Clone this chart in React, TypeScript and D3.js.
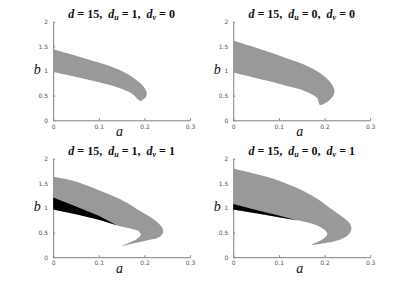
import { useEffect, useRef } from 'react';
import * as d3 from 'd3';

type Pt = [number, number];

const dValue = 15;
const duValues = [1, 0, 1, 0];
const dvValues = [0, 0, 1, 1];

const xTicks = [0, 0.1, 0.2, 0.3];
const yTicks = [0, 0.5, 1, 1.5, 2];

// grey region outlines, (a, b) going round: upper edge, right end, inner edge back to a = 0
const regionTL: Pt[] = [
  [0, 1.44], [0.05, 1.31], [0.1, 1.17], [0.14, 1.04], [0.17, 0.9], [0.19, 0.76],
  [0.2, 0.66], [0.205, 0.55], [0.203, 0.47], [0.197, 0.42], [0.192, 0.39],
  [0.186, 0.42], [0.176, 0.52], [0.15, 0.64], [0.1, 0.77], [0.05, 0.88], [0, 0.98],
];
const regionTR: Pt[] = [
  [0, 1.62], [0.04, 1.5], [0.08, 1.38], [0.12, 1.25], [0.155, 1.13], [0.19, 0.96],
  [0.21, 0.8], [0.22, 0.66], [0.222, 0.58], [0.218, 0.48], [0.21, 0.4], [0.2, 0.34],
  [0.19, 0.31], [0.187, 0.36], [0.184, 0.45], [0.155, 0.6], [0.12, 0.69],
  [0.08, 0.79], [0.04, 0.88], [0, 0.97],
];
const regionBL: Pt[] = [
  [0, 1.63], [0.04, 1.56], [0.066, 1.48], [0.1, 1.36], [0.139, 1.21], [0.17, 1.06],
  [0.19, 0.94], [0.22, 0.77], [0.235, 0.65], [0.241, 0.54], [0.238, 0.45],
  [0.228, 0.39], [0.21, 0.35], [0.19, 0.31], [0.17, 0.27], [0.15, 0.23],
  [0.168, 0.3], [0.183, 0.37], [0.192, 0.45], [0.188, 0.52], [0.17, 0.58],
  [0.146, 0.63], [0.1, 0.76], [0.05, 0.87], [0, 0.97],
];
const regionBR: Pt[] = [
  [0, 1.8], [0.04, 1.71], [0.081, 1.61], [0.12, 1.48], [0.155, 1.34], [0.185, 1.18],
  [0.206, 1.04], [0.225, 0.91], [0.243, 0.79], [0.254, 0.7], [0.259, 0.6],
  [0.256, 0.5], [0.248, 0.42], [0.235, 0.36], [0.215, 0.31], [0.195, 0.28],
  [0.171, 0.25], [0.187, 0.32], [0.2, 0.39], [0.206, 0.47], [0.202, 0.54],
  [0.19, 0.62], [0.165, 0.7], [0.14, 0.75], [0.1, 0.81], [0.05, 0.89], [0, 0.97],
];

// black wedges (bottom row only)
const wedgeBL: Pt[] = [
  [0, 1.21], [0.05, 1.03], [0.1, 0.84], [0.139, 0.65], [0.1, 0.76], [0.05, 0.87], [0, 0.97],
];
const wedgeBR: Pt[] = [
  [0, 1.08], [0.05, 0.96], [0.1, 0.845], [0.14, 0.745], [0.1, 0.81], [0.05, 0.89], [0, 0.97],
];

const regions = [regionTL, regionTR, regionBL, regionBR];
const wedges: (Pt[] | null)[] = [null, null, wedgeBL, wedgeBR];

const W = 409;
const H = 289;
const AXIS = '#808080';
const SERIF = '"Liberation Serif", "DejaVu Serif", serif';

export default function App() {
  const svgRef = useRef<SVGSVGElement>(null);

  useEffect(() => {
    if (!svgRef.current) return;
    const svg = d3.select(svgRef.current);
    svg.selectAll('*').remove();

    // matlab-style subplot positions
    const pw = 0.3347 * W;
    const ph = 0.3412 * H;
    const lefts = [0.13 * W, 0.5703 * W];
    const bottoms = [(1 - 0.5838) * H, (1 - 0.11) * H];

    regions.forEach((region, i) => {
      const col = i % 2;
      const row = Math.floor(i / 2);
      const g = svg
        .append('g')
        .attr('transform', `translate(${lefts[col]},${bottoms[row] - ph})`);

      const x = d3.scaleLinear().domain([0, 0.3]).range([0, pw]);
      const y = d3.scaleLinear().domain([0, 2]).range([ph, 0]);

      // axes
      const xAxis = g
        .append('g')
        .attr('transform', `translate(0,${ph})`)
        .call(
          d3.axisBottom(x).tickValues(xTicks).tickSizeInner(-2).tickSizeOuter(0).tickPadding(4)
            .tickFormat((d) => String(d))
        );
      const yAxis = g
        .append('g')
        .call(
          d3.axisLeft(y).tickValues(yTicks).tickSizeInner(-2).tickSizeOuter(0).tickPadding(5)
            .tickFormat((d) => String(d))
        );
      [xAxis, yAxis].forEach((ax) => {
        ax.select('.domain').attr('stroke', AXIS);
        ax.selectAll('.tick line').attr('stroke', AXIS);
        ax.selectAll('.tick text')
          .attr('fill', '#555')
          .attr('font-size', 6)
          .attr('font-family', '"DejaVu Sans", sans-serif');
      });

      const line = d3
        .line<Pt>()
        .x((d) => x(d[0]))
        .y((d) => y(d[1]))
        .curve(d3.curveCatmullRom.alpha(0.5));

      g.append('path').attr('d', line(region) + 'Z').attr('fill', '#999999');
      const wedge = wedges[i];
      if (wedge) {
        g.append('path')
          .attr('d', d3.line<Pt>().x((d) => x(d[0])).y((d) => y(d[1]))(wedge) + 'Z')
          .attr('fill', '#000');
      }

      // title
      const t = g
        .append('text')
        .attr('x', pw / 2)
        .attr('y', -4)
        .attr('text-anchor', 'middle')
        .attr('font-family', SERIF)
        .attr('font-size', 12)
        .attr('font-weight', 'bold')
        .attr('fill', '#111')
        .style('white-space', 'pre');
      t.append('tspan').attr('font-style', 'italic').text('d');
      t.append('tspan').text(` = ${dValue},  `);
      t.append('tspan').attr('font-style', 'italic').text('d');
      t.append('tspan').attr('font-style', 'italic').attr('font-size', 8).attr('dy', 2).text('u');
      t.append('tspan').attr('dy', -2).text(` = ${duValues[i]},  `);
      t.append('tspan').attr('font-style', 'italic').text('d');
      t.append('tspan').attr('font-style', 'italic').attr('font-size', 8).attr('dy', 2).text('v');
      t.append('tspan').attr('dy', -2).text(` = ${dvValues[i]}`);

      // axis labels
      g.append('text')
        .attr('x', pw / 2 - 2)
        .attr('y', ph + 16)
        .attr('text-anchor', 'middle')
        .attr('font-family', SERIF)
        .attr('font-style', 'italic')
        .attr('font-size', 14)
        .attr('fill', '#111')
        .text('a');
      g.append('text')
        .attr('x', -16)
        .attr('y', y(1) + 3)
        .attr('text-anchor', 'middle')
        .attr('font-family', SERIF)
        .attr('font-style', 'italic')
        .attr('font-size', 14)
        .attr('fill', '#111')
        .text('b');
    });
  }, []);

  return (
    <svg
      ref={svgRef}
      width={W}
      height={H}
      style={{ position: 'absolute', left: 0, top: 0, background: '#fff' }}
    />
  );
}
